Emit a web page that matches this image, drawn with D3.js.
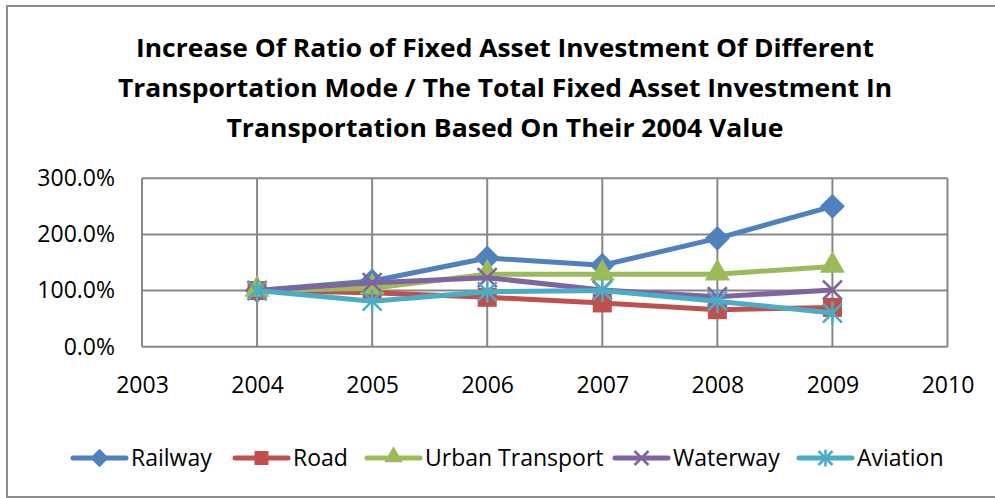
<!DOCTYPE html>
<html>
<head>
<meta charset="utf-8">
<script src="https://cdn.jsdelivr.net/npm/d3@7"></script>
<style>
  body { margin: 0; background: #fff; overflow: hidden; }
  svg { display: block; }
  text { font-family: "Open Sans", sans-serif; fill: #000; }
</style>
</head>
<body>
<script>
// data (percent of 2004 value)
let years = [2004, 2005, 2006, 2007, 2008, 2009];
let railway = [100, 117, 158, 145, 193, 250];
let road = [100, 96, 88, 78, 66, 70];
let urban = [100, 104, 129, 129, 129, 143];
let waterway = [100, 114, 123, 101, 89, 101];
let aviation = [100, 81, 98, 100, 81, 60];

let seriesNames = ["Railway", "Road", "Urban Transport", "Waterway", "Aviation"];
let seriesColors = ["#4F81BD", "#C0504D", "#9BBB59", "#8064A2", "#4BACC6"];
let seriesShapes = ["diamond", "square", "triangle", "cross", "star"];
let yTicks = [0, 100, 200, 300];
let xTicks = [2003, 2004, 2005, 2006, 2007, 2008, 2009, 2010];

let titleLines = [
  "Increase Of Ratio of Fixed Asset Investment Of Different",
  "Transportation Mode / The Total Fixed Asset Investment In",
  "Transportation Based On Their 2004 Value"
];
let titleWidths = [738, 774, 557];

let allSeries = [railway, road, urban, waterway, aviation].map(function(vals, i){
  return {name: seriesNames[i], color: seriesColors[i], shape: seriesShapes[i],
          values: vals.map(function(v, j){ return {year: years[j], value: v}; })};
});

let width = 995, height = 498;
let svg = d3.select("body").append("svg")
    .attr("width", width)
    .attr("height", height);

// outer chart border (right edge is off the picture)
svg.append("rect")
    .attr("x", 7).attr("y", 6)
    .attr("width", 1010).attr("height", 491)
    .attr("fill", "none")
    .attr("stroke", "#8c8c8c")
    .attr("stroke-width", 2);

// title
svg.selectAll(".title").data(titleLines).enter()
    .append("text")
    .attr("class", "title")
    .attr("x", 505)
    .attr("y", function(d, i){ return 57 + i * 40; })
    .attr("text-anchor", "middle")
    .attr("textLength", function(d, i){ return titleWidths[i]; })
    .attr("lengthAdjust", "spacingAndGlyphs")
    .style("font-weight", "bold")
    .style("font-size", "25px")
    .text(function(d){ return d; });

let x = d3.scaleLinear().domain([2003, 2010]).range([142, 947.5]);
let y = d3.scaleLinear().domain([0, 300]).range([346.7, 178.3]);

// gridlines
let grid = svg.append("g");
grid.selectAll(".hgrid").data(yTicks).enter()
    .append("line")
    .attr("x1", x(2003)).attr("x2", x(2010))
    .attr("y1", function(d){ return y(d); })
    .attr("y2", function(d){ return y(d); })
    .attr("stroke", "#878787").attr("stroke-width", 2);
grid.selectAll(".vgrid").data(xTicks).enter()
    .append("line")
    .attr("x1", function(d){ return x(d); })
    .attr("x2", function(d){ return x(d); })
    .attr("y1", y(0)).attr("y2", y(300))
    .attr("stroke", "#878787").attr("stroke-width", 2);

// y axis labels
let yAxis = d3.axisLeft(y).tickValues(yTicks).tickSize(0).tickPadding(27)
    .tickFormat(function(d){ return d3.format(".1f")(d) + "%"; });
let ya = svg.append("g").attr("transform", "translate(" + x(2003) + ",0)").call(yAxis);
ya.select(".domain").remove();
ya.selectAll("text").style("font-size", "23px").attr("font-family", null);

// x axis labels
let xAxis = d3.axisBottom(x).tickValues(xTicks).tickSize(0).tickPadding(30)
    .tickFormat(d3.format("d"));
let xa = svg.append("g").attr("transform", "translate(0," + y(0) + ")").call(xAxis);
xa.select(".domain").remove();
xa.selectAll("text").style("font-size", "23px").attr("font-family", null);

// marker drawing
function drawMarker(g, shape, color, cx, cy, s){
  if (shape == "diamond"){
    g.append("path").attr("d", d3.symbol(d3.symbolDiamond2, s * s * 1.1)())
      .attr("transform", "translate(" + cx + "," + cy + ")").attr("fill", color);
  } else if (shape == "square"){
    g.append("rect").attr("x", cx - s * 0.5).attr("y", cy - s * 0.5)
      .attr("width", s).attr("height", s).attr("fill", color);
  } else if (shape == "triangle"){
    g.append("path").attr("d", d3.symbol(d3.symbolTriangle, s * s * 0.75)())
      .attr("transform", "translate(" + cx + "," + (cy - 1) + ")").attr("fill", color);
  } else if (shape == "cross"){
    let h = s * 0.5;
    g.append("path").attr("d", "M" + (cx - h) + "," + (cy - h) + "L" + (cx + h) + "," + (cy + h) +
                                "M" + (cx - h) + "," + (cy + h) + "L" + (cx + h) + "," + (cy - h))
      .attr("stroke", color).attr("stroke-width", 2.5);
  } else if (shape == "star"){
    let h = s * 0.5;
    g.append("path").attr("d", "M" + (cx - h) + "," + (cy - h) + "L" + (cx + h) + "," + (cy + h) +
                                "M" + (cx - h) + "," + (cy + h) + "L" + (cx + h) + "," + (cy - h) +
                                "M" + cx + "," + (cy - h * 1.2) + "L" + cx + "," + (cy + h * 1.2))
      .attr("stroke", color).attr("stroke-width", 2.5);
  }
}

let line = d3.line()
    .x(function(d){ return x(d.year); })
    .y(function(d){ return y(d.value); });

let plot = svg.append("g");
allSeries.forEach(function(s){
  plot.append("path")
      .datum(s.values)
      .attr("d", line)
      .attr("fill", "none")
      .attr("stroke", s.color)
      .attr("stroke-width", 5)
      .attr("stroke-linejoin", "round");
  s.values.forEach(function(d){
    drawMarker(plot, s.shape, s.color, x(d.year), y(d.value), 19);
  });
});

// legend
let legendX = [73, 235, 367, 615, 799];
let legend = svg.append("g");
allSeries.forEach(function(s, i){
  let lx = legendX[i], ly = 458;
  legend.append("line")
      .attr("x1", lx).attr("x2", lx + 53)
      .attr("y1", ly).attr("y2", ly)
      .attr("stroke", s.color).attr("stroke-width", 5)
      .attr("stroke-linecap", "round");
  drawMarker(legend, s.shape, s.color, lx + 26.5, ly, 14);
  legend.append("text")
      .attr("x", lx + 58).attr("y", ly + 8)
      .style("font-size", "23px")
      .text(s.name);
});
</script>
</body>
</html>
